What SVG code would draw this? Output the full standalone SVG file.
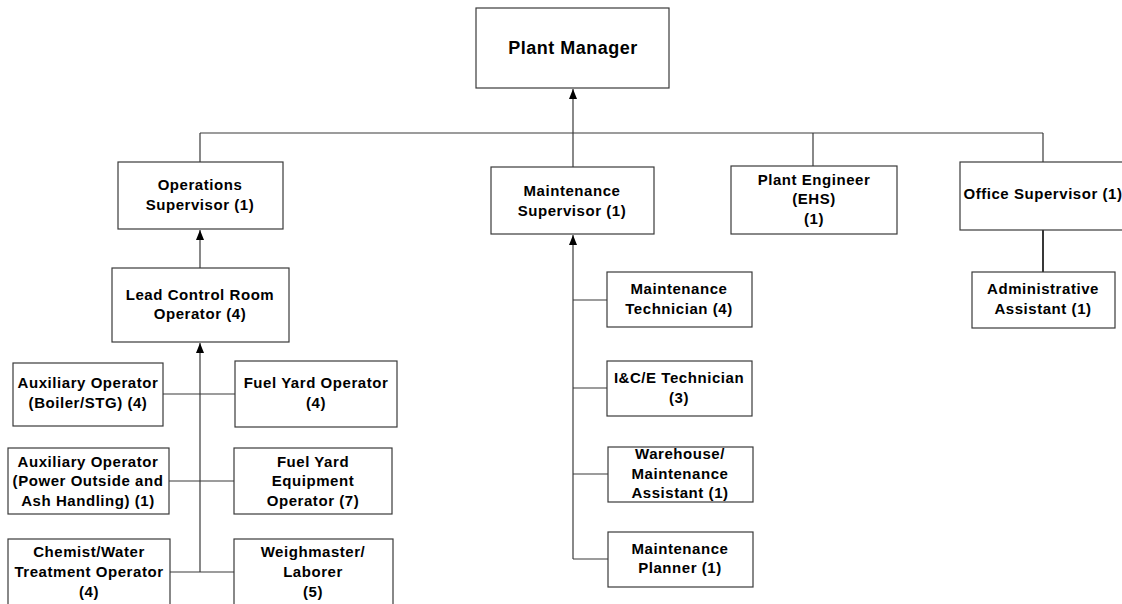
<svg xmlns="http://www.w3.org/2000/svg" width="1122" height="604" viewBox="0 0 1122 604">
<style>
.box{fill:#fff;stroke:#3a3a3a;stroke-width:1.2}
.t{font-family:"Liberation Sans",Arial,sans-serif;font-weight:bold;font-size:15px;letter-spacing:0.55px;fill:#000;text-anchor:middle}
.big{font-size:18px;letter-spacing:0.5px}
.c{fill:none;stroke:#3a3a3a;stroke-width:1.2}
</style>
<defs>
<marker id="arr" markerUnits="userSpaceOnUse" markerWidth="10" markerHeight="8" viewBox="0 0 10 8" refX="10" refY="4" orient="auto">
<path d="M0,0 L10,4 L0,8 z" fill="#000"/>
</marker>
</defs>
<rect width="1122" height="604" fill="#fff"/>
<g id="connectors">
<line class="c" x1="573" y1="133" x2="573" y2="89" marker-end="url(#arr)"/>
<line class="c" x1="200" y1="133" x2="1043" y2="133"/>
<line class="c" x1="200" y1="133" x2="200" y2="162"/>
<line class="c" x1="813" y1="133" x2="813" y2="166"/>
<line class="c" x1="1043" y1="133" x2="1043" y2="162"/>
<line class="c" x1="573" y1="133" x2="573" y2="167"/>
<line class="c" x1="200" y1="268" x2="200" y2="230" marker-end="url(#arr)"/>
<line class="c" x1="200" y1="572" x2="200" y2="343" marker-end="url(#arr)"/>
<line class="c" x1="163" y1="394" x2="235" y2="394"/>
<line class="c" x1="169" y1="481" x2="234" y2="481"/>
<line class="c" x1="170" y1="572" x2="234" y2="572"/>
<line class="c" x1="573" y1="559" x2="573" y2="235" marker-end="url(#arr)"/>
<line class="c" x1="573" y1="300" x2="607" y2="300"/>
<line class="c" x1="573" y1="388" x2="607" y2="388"/>
<line class="c" x1="573" y1="474" x2="608" y2="474"/>
<line class="c" x1="573" y1="559" x2="608" y2="559"/>
<line class="c" x1="1043" y1="230" x2="1043" y2="272" style="stroke-width:1.8;stroke:#222"/>
</g>
<g id="plant-manager">
<rect class="box" x="476" y="8" width="193" height="80"/>
<text class="t big" x="573" y="54">Plant Manager</text>
</g>
<g id="operations-supervisor">
<rect class="box" x="118" y="162" width="165" height="67"/>
<text class="t" x="200" y="190">Operations</text>
<text class="t" x="200" y="210">Supervisor (1)</text>
</g>
<g id="maintenance-supervisor">
<rect class="box" x="491" y="167" width="163" height="67"/>
<text class="t" x="572" y="196">Maintenance</text>
<text class="t" x="572" y="216">Supervisor (1)</text>
</g>
<g id="plant-engineer">
<rect class="box" x="731" y="166" width="166" height="68"/>
<text class="t" x="814" y="185">Plant Engineer</text>
<text class="t" x="814" y="204">(EHS)</text>
<text class="t" x="814" y="224">(1)</text>
</g>
<g id="office-supervisor">
<rect class="box" x="960" y="162" width="170" height="68"/>
<text class="t" x="1043" y="199">Office Supervisor (1)</text>
</g>
<g id="administrative-assistant">
<rect class="box" x="972" y="272" width="143" height="56"/>
<text class="t" x="1043" y="294">Administrative</text>
<text class="t" x="1043" y="314">Assistant (1)</text>
</g>
<g id="lead-control-room-operator">
<rect class="box" x="112" y="268" width="177" height="74"/>
<text class="t" x="200" y="300">Lead Control Room</text>
<text class="t" x="200" y="319">Operator (4)</text>
</g>
<g id="aux-operator-boiler">
<rect class="box" x="13" y="363" width="150" height="63"/>
<text class="t" x="88" y="388">Auxiliary Operator</text>
<text class="t" x="88" y="408">(Boiler/STG) (4)</text>
</g>
<g id="fuel-yard-operator">
<rect class="box" x="235" y="361" width="162" height="66"/>
<text class="t" x="316" y="388">Fuel Yard Operator</text>
<text class="t" x="316" y="408">(4)</text>
</g>
<g id="aux-operator-power">
<rect class="box" x="8" y="448" width="161" height="66"/>
<text class="t" x="88" y="467">Auxiliary Operator</text>
<text class="t" x="88" y="486">(Power Outside and</text>
<text class="t" x="88" y="506">Ash Handling) (1)</text>
</g>
<g id="fuel-yard-equipment-operator">
<rect class="box" x="234" y="448" width="158" height="66"/>
<text class="t" x="313" y="467">Fuel Yard</text>
<text class="t" x="313" y="486">Equipment</text>
<text class="t" x="313" y="506">Operator (7)</text>
</g>
<g id="chemist-water-treatment-operator">
<rect class="box" x="8" y="539" width="162" height="75"/>
<text class="t" x="89" y="557">Chemist/Water</text>
<text class="t" x="89" y="577">Treatment Operator</text>
<text class="t" x="89" y="597">(4)</text>
</g>
<g id="weighmaster-laborer">
<rect class="box" x="234" y="539" width="159" height="75"/>
<text class="t" x="313" y="557">Weighmaster/</text>
<text class="t" x="313" y="577">Laborer</text>
<text class="t" x="313" y="597">(5)</text>
</g>
<g id="maintenance-technician">
<rect class="box" x="607" y="272" width="145" height="55"/>
<text class="t" x="679" y="294">Maintenance</text>
<text class="t" x="679" y="314">Technician (4)</text>
</g>
<g id="ice-technician">
<rect class="box" x="607" y="361" width="145" height="55"/>
<text class="t" x="679" y="383">I&amp;C/E Technician</text>
<text class="t" x="679" y="403">(3)</text>
</g>
<g id="warehouse-maintenance-assistant">
<rect class="box" x="608" y="447" width="145" height="55"/>
<text class="t" x="680" y="459">Warehouse/</text>
<text class="t" x="680" y="479">Maintenance</text>
<text class="t" x="680" y="498">Assistant (1)</text>
</g>
<g id="maintenance-planner">
<rect class="box" x="608" y="532" width="145" height="55"/>
<text class="t" x="680" y="554">Maintenance</text>
<text class="t" x="680" y="573">Planner (1)</text>
</g>
</svg>
